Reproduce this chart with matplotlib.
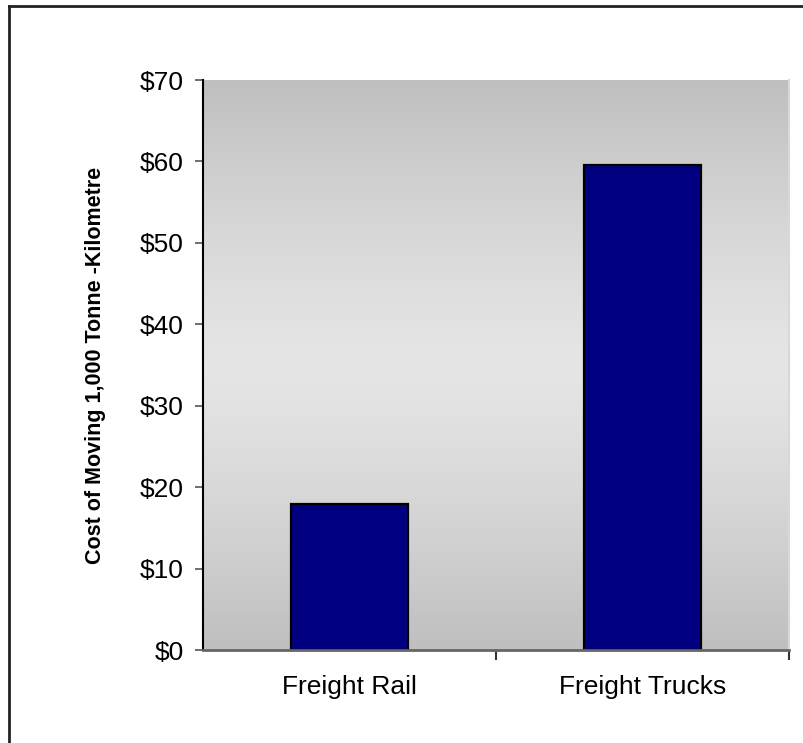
import numpy as np
import matplotlib
matplotlib.use("Agg")
import matplotlib.pyplot as plt
from matplotlib.lines import Line2D

plt.rcParams['font.family'] = ['Liberation Sans', 'DejaVu Sans']

categories = ["Freight Rail", "Freight Trucks"]
costs = [17.9, 59.6]
y_ticks = [0, 10, 20, 30, 40, 50, 60, 70]
y_tick_labels = ["$0", "$10", "$20", "$30", "$40", "$50", "$60", "$70"]

W, H = 804, 743
fig = plt.figure(figsize=(W / 100, H / 100), dpi=100)
ax = fig.add_axes([203 / W, 1 - 650 / H, (789 - 203) / W, (650 - 80) / H])

# vertical gray gradient for the plot area: darker at top and bottom, light in the middle
t = np.linspace(0, 1, 256)
shade = 0.75 + 0.15 * (1 - np.abs(2 * t - 1) ** 1.3)
grad = np.repeat(shade[:, None, None], 3, axis=2)
ax.imshow(grad, extent=[-0.5, 1.5, 0, 70], aspect='auto', origin='lower', zorder=0)

x = np.arange(len(categories))
ax.bar(x, costs, width=0.40, color="#000080", edgecolor="black", linewidth=1.6, zorder=2)

ax.set_xlim(-0.5, 1.5)
ax.set_ylim(0, 70)
ax.set_yticks(y_ticks)
ax.set_yticklabels(y_tick_labels, fontsize=19)
ax.set_xticks(x)
ax.set_xticklabels(categories, fontsize=19)
ax.set_xticks([0.5, 1.5], minor=True)

ax.tick_params(axis='y', direction='out', length=6, width=1.2, color='#555555', pad=8)
ax.tick_params(axis='x', which='major', length=0, pad=18)
ax.tick_params(axis='x', which='minor', direction='out', length=7, width=1.5, color='#333333')

ax.spines['top'].set_visible(False)
ax.spines['right'].set_color('#d8d8d8')
ax.spines['right'].set_linewidth(1.5)
ax.spines['left'].set_color('black')
ax.spines['left'].set_linewidth(1.5)
ax.spines['bottom'].set_color('#666666')
ax.spines['bottom'].set_linewidth(2)

ax.set_ylabel("Cost of Moving 1,000 Tonne -Kilometre", fontsize=15.5, fontweight='bold', labelpad=24)

# outer frame around the chart
fx, fy = 9.5 / W, 1 - 5.5 / H
fig.add_artist(Line2D([fx, fx], [0, fy], transform=fig.transFigure, color='#222222', lw=2))
fig.add_artist(Line2D([fx, 1], [fy, fy], transform=fig.transFigure, color='#222222', lw=2))

fig.savefig("out.png", dpi=100)
